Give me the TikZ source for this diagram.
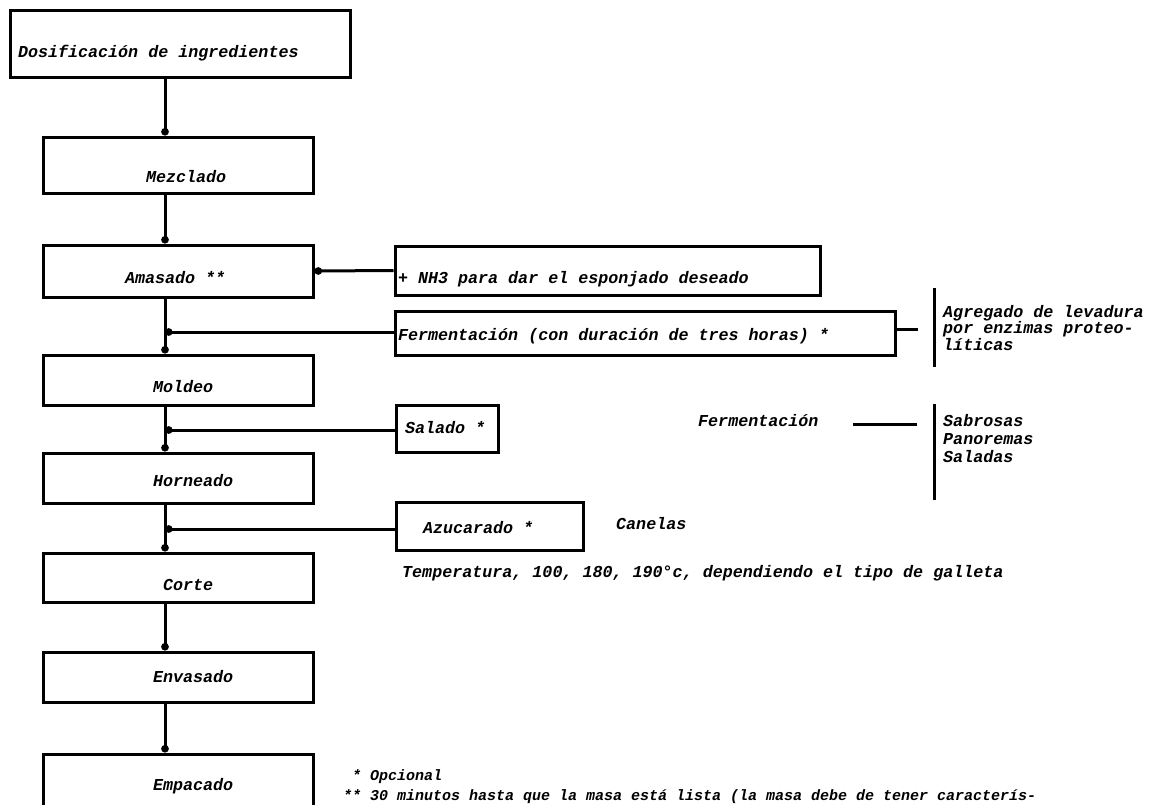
\documentclass[tikz,border=0pt]{standalone}
\usepackage{fontspec}
\setmainfont{Liberation Mono}
\usetikzlibrary{arrows.meta}
\newcommand\tx[3]{\makebox[0pt][l]{\hspace*{#1pt}\raisebox{-#2pt}[0pt][0pt]{#3}}}
\begin{document}
\begin{tikzpicture}[x=1pt,y=-1pt,
  tw/.style={font=\bfseries\itshape\fontsize{16.7}{16.5}\selectfont},
  fn/.style={font=\bfseries\itshape\fontsize{15}{15}\selectfont},
  box/.style={draw, line width=3pt, inner sep=0pt, tw},
  conn/.style={line width=3pt},
  dotconn/.style={line width=3pt, -{Circle[length=7.5pt]}},
  free/.style={tw, anchor=base west, inner sep=0pt, align=left}]
\useasboundingbox (0,0) rectangle (1151,804);
% main chain
\node[box, minimum width=340, minimum height=67] (dos) at (180,43.5) {\tx{-162}{13.5}{Dosificación de ingredientes}};
\node[box, minimum width=270, minimum height=56] (mez) at (178,165) {\tx{-32}{17}{Mezclado}};
\node[box, minimum width=270, minimum height=52] (ama) at (178,271) {\tx{-53}{12}{Amasado **}};
\node[box, minimum width=270, minimum height=50] (mol) at (178,380) {\tx{-25}{12}{Moldeo}};
\node[box, minimum width=270, minimum height=50] (hor) at (178,478) {\tx{-25}{8}{Horneado}};
\node[box, minimum width=270, minimum height=49] (cor) at (178,577.5) {\tx{-15}{12.5}{Corte}};
\node[box, minimum width=270, minimum height=50] (env) at (178,677) {\tx{-25}{5}{Envasado}};
\node[box, minimum width=270, minimum height=52] (emp) at (178,780) {\tx{-25}{10}{Empacado}};
% side boxes
\node[box, minimum width=425, minimum height=49] (nh3) at (607.5,270.5) {\tx{-209.5}{12.5}{+ NH3 para dar el esponjado deseado}};
\node[box, minimum width=500, minimum height=44] (fer) at (645,333) {\tx{-247}{7}{Fermentación (con duración de tres horas) *}};
\node[box, minimum width=102, minimum height=47] (sal) at (447,428.5) {\tx{-42}{4.5}{Salado *}};
\node[box, minimum width=187, minimum height=48] (azu) at (489.5,526) {\tx{-66.5}{7}{Azucarado *}};
% helper coordinates
\coordinate (X) at (165,0);
\coordinate (j1) at (165,332);
\coordinate (j2) at (165,430);
\coordinate (j3) at (165,529);
\coordinate (fe) at (918,329);
\coordinate (b1a) at (934,288);
\coordinate (b1b) at (934,367);
\coordinate (pa) at (853,424);
\coordinate (pb) at (917,424);
\coordinate (b2a) at (934,404);
\coordinate (b2b) at (934,500);
% main connectors
\draw[dotconn] (dos.south -| X) -- (mez.north -| X);
\draw[dotconn] (mez.south -| X) -- (ama.north -| X);
\draw[dotconn] (ama.south -| X) -- (mol.north -| X);
\draw[dotconn] (mol.south -| X) -- (hor.north -| X);
\draw[dotconn] (hor.south -| X) -- (cor.north -| X);
\draw[dotconn] (cor.south -| X) -- (env.north -| X);
\draw[dotconn] (env.south -| X) -- (emp.north -| X);
% side connectors
\draw[dotconn] (nh3.west) -- (ama.east);
\draw[dotconn] (j1 -| fer.west) -- (j1);
\draw[dotconn] (j2 -| sal.west) -- (j2);
\draw[dotconn] (j3 -| azu.west) -- (j3);
% right-hand notes
\draw[conn] (fe -| fer.east) -- (fe);
\draw[conn] (b1a) -- (b1b);
\draw[conn] (pa) -- (pb);
\draw[conn] (b2a) -- (b2b);
\node[free] (agr) at (943,350) {Agregado de levadura\\por enzimas proteo-\\líticas};
\node[free] (perm) at (698,426) {Fermentación};
\node[free, font=\bfseries\itshape\fontsize{16.7}{18}\selectfont] (tipos) at (943,462) {Sabrosas\\Panoremas\\Saladas};
\node[free] (can) at (616,529) {Canelas};
\node[free] (temp) at (402,577) {Temperatura, 100, 180, 190°c, dependiendo el tipo de galleta};
% footnotes
\node[free, fn] (op) at (352,780) {* Opcional};
\node[free, fn] (min) at (343,800) {** 30 minutos hasta que la masa está lista (la masa debe de tener caracterís-};
\end{tikzpicture}
\end{document}
